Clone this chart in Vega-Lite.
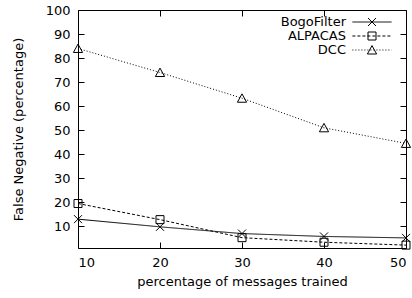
{
  "$schema": "https://vega.github.io/schema/vega-lite/v6.json",
  "width": 328,
  "height": 238,
  "autosize": {"type": "none"},
  "padding": {"left": 78, "top": 10, "right": 6, "bottom": 50},
  "background": "white",
  "config": {
    "view": {"stroke": "black", "strokeWidth": 1},
    "font": "DejaVu Sans",
    "axis": {
      "grid": false, "domain": false, "tickColor": "black", "tickSize": -6, "tickWidth": 1,
      "labelColor": "black", "labelFontSize": 13, "labelFont": "DejaVu Sans",
      "titleFont": "DejaVu Sans", "titleFontSize": 13, "titleFontWeight": "normal", "titleColor": "black"
    }
  },
  "data": {
    "values": [
      {"trained": 10, "fn": 13.0, "series": "BogoFilter"},
      {"trained": 20, "fn": 9.8, "series": "BogoFilter"},
      {"trained": 30, "fn": 7.0, "series": "BogoFilter"},
      {"trained": 40, "fn": 5.8, "series": "BogoFilter"},
      {"trained": 50, "fn": 5.2, "series": "BogoFilter"},
      {"trained": 10, "fn": 19.5, "series": "ALPACAS"},
      {"trained": 20, "fn": 12.8, "series": "ALPACAS"},
      {"trained": 30, "fn": 5.3, "series": "ALPACAS"},
      {"trained": 40, "fn": 3.4, "series": "ALPACAS"},
      {"trained": 50, "fn": 2.2, "series": "ALPACAS"},
      {"trained": 10, "fn": 84.0, "series": "DCC"},
      {"trained": 20, "fn": 74.0, "series": "DCC"},
      {"trained": 30, "fn": 63.3, "series": "DCC"},
      {"trained": 40, "fn": 51.0, "series": "DCC"},
      {"trained": 50, "fn": 44.5, "series": "DCC"}
    ]
  },
  "layer": [
    {
      "mark": {"type": "line", "color": "black", "strokeWidth": 1},
      "encoding": {
        "x": {"field": "trained", "type": "quantitative", "scale": {"domain": [10, 50], "nice": false},
          "axis": {"orient": "bottom", "values": [10, 20, 30, 40, 50], "title": "percentage of messages trained", "labelPadding": 14, "titlePadding": 6}},
        "y": {"field": "fn", "type": "quantitative", "scale": {"domain": [1, 100], "nice": false, "zero": false},
          "axis": {"orient": "left", "values": [10, 20, 30, 40, 50, 60, 70, 80, 90, 100], "title": "False Negative (percentage)", "labelPadding": 14, "titlePadding": 20}},
        "strokeDash": {"field": "series", "type": "nominal",
          "scale": {"domain": ["BogoFilter", "ALPACAS", "DCC"], "range": [[1, 0], [3, 2], [1, 2]]},
          "legend": {"orient": "none", "legendX": 287.5, "legendY": 5.5, "title": null, "padding": 0,
            "symbolType": "M-4.9,0H4.9", "symbolSize": 64, "symbolStrokeColor": "black", "symbolStrokeWidth": 1,
            "labelAlign": "right", "labelOffset": -32.5, "labelFontSize": 13, "labelFont": "DejaVu Sans", "labelColor": "black", "rowPadding": -3}}
      }
    },
    {
      "mark": {"type": "point", "filled": false, "color": "black", "size": 64, "strokeWidth": 1, "opacity": 1},
      "encoding": {
        "x": {"field": "trained", "type": "quantitative", "scale": {"domain": [10, 50], "nice": false},
          "axis": {"orient": "top", "values": [10, 20, 30, 40, 50], "labels": false, "title": null}},
        "y": {"field": "fn", "type": "quantitative", "scale": {"domain": [1, 100], "nice": false, "zero": false},
          "axis": {"orient": "right", "values": [10, 20, 30, 40, 50, 60, 70, 80, 90, 100], "labels": false, "title": null}},
        "shape": {"field": "series", "type": "nominal", "sort": ["BogoFilter", "ALPACAS", "DCC"],
          "scale": {"range": ["M-1,-1L1,1M-1,1L1,-1", "M-1,-1H1V1H-1Z", "M0,-1.1L1.15,1H-1.15Z"]},
          "legend": {"orient": "none", "legendX": 287.5, "legendY": 5.5, "title": null, "padding": 0,
            "symbolSize": 64, "symbolStrokeColor": "black", "symbolFillColor": "transparent", "symbolStrokeWidth": 1,
            "labelAlign": "right", "labelOffset": -32.5, "labelFontSize": 13, "labelFont": "DejaVu Sans", "labelColor": "black", "labelOpacity": 0, "rowPadding": -3}}
      }
    }
  ],
  "resolve": {"axis": {"x": "independent", "y": "independent"}}
}
